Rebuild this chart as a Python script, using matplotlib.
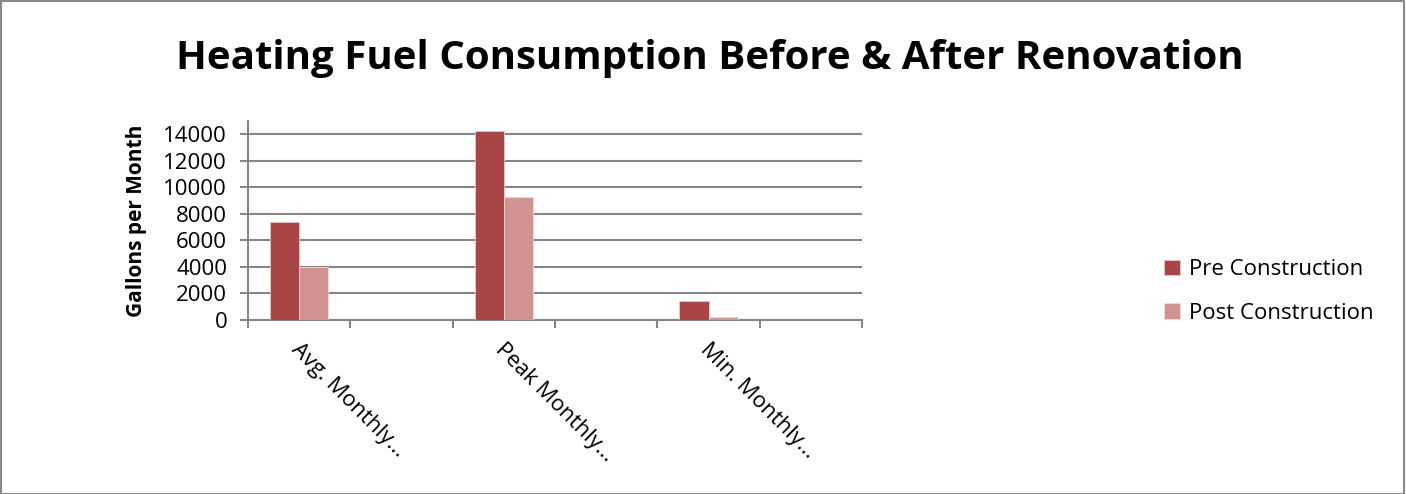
import matplotlib.pyplot as plt
import numpy as np
from matplotlib.patches import Rectangle

plt.rcParams['font.family'] = ['Open Sans', 'DejaVu Sans']

categories = ["Avg. Monthly...", "", "Peak Monthly...", "", "Min. Monthly...", ""]
pre = [7400, 0, 14250, 0, 1400, 0]
post = [4000, 0, 9300, 0, 200, 0]
series = ["Pre Construction", "Post Construction"]
colors = ["#A94545", "#D39393"]

fig = plt.figure(figsize=(14.06, 4.94), dpi=100)
fig.patches.append(Rectangle((0.0005, 0.001), 0.998, 0.997, transform=fig.transFigure,
                             fill=False, edgecolor="#888888", linewidth=1.5))
ax = fig.add_axes([0.1764, 0.3522, 0.4367, 0.4028])

x = np.arange(len(categories))
w = 0.285
ax.bar(x - w / 2, pre, w, color=colors[0], edgecolor="#E8C8C8", linewidth=0.6,
       label=series[0], zorder=3)
ax.bar(x + w / 2, post, w, color=colors[1], edgecolor="#F0DADA", linewidth=0.6,
       label=series[1], zorder=3)

ax.set_xlim(-0.5, len(categories) - 0.5)
ax.set_ylim(0, 15000)
ax.set_yticks(np.arange(0, 14001, 2000))
ax.yaxis.grid(True, color="#868686", linewidth=1.5, zorder=0)
ax.tick_params(axis='y', length=6, width=1.5, color="#868686", labelsize=16, pad=9)

ax.set_xticks(np.arange(-0.5, len(categories)), minor=False)
ax.set_xticklabels([])
ax.tick_params(axis='x', length=6, width=1.5, color="#868686")
for i, lab in enumerate(categories):
    if lab:
        ax.text(i - 0.05, -2000, lab, rotation=-45, rotation_mode='anchor',
                ha='left', va='center', fontsize=16)

for s in ["top", "right"]:
    ax.spines[s].set_visible(False)
for s in ["left", "bottom"]:
    ax.spines[s].set_color("#868686")
    ax.spines[s].set_linewidth(1.5)

ax.set_ylabel("Gallons per Month", fontsize=15, fontweight='bold', labelpad=12)

fig.text(0.505, 0.882, "Heating Fuel Consumption Before & After Renovation",
         ha='center', va='center', fontsize=29, fontweight='bold')

fig.legend(loc='center left', bbox_to_anchor=(0.814, 0.41), frameon=False,
           fontsize=16, handlelength=0.7, handleheight=0.7, handletextpad=0.4,
           labelspacing=1.0)

fig.savefig("out.png", dpi=100)
